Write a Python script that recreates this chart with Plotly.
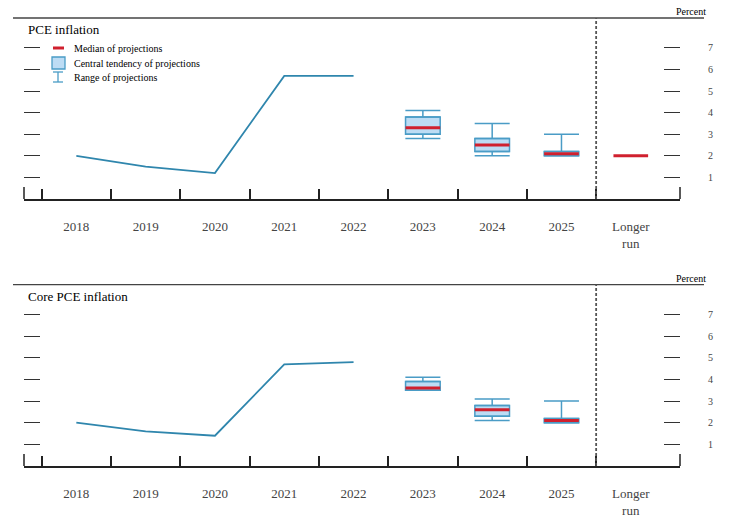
import plotly.graph_objects as go

# ---------------- data ----------------
categories = ["2018", "2019", "2020", "2021", "2022", "2023", "2024", "2025", "Longer run"]
tick_labels = ["2018", "2019", "2020", "2021", "2022", "2023", "2024", "2025", "Longer<br>run"]
hist_years = ["2018", "2019", "2020", "2021", "2022"]
proj_years = ["2023", "2024", "2025"]
longer_run_cat = ["Longer run"]

pce_hist = [2.0, 1.5, 1.2, 5.7, 5.7]
pce_median = [3.3, 2.5, 2.1]
pce_ct_low = [3.0, 2.2, 2.0]
pce_ct_high = [3.8, 2.8, 2.2]
pce_range_low = [2.8, 2.0, 2.0]
pce_range_high = [4.1, 3.5, 3.0]
pce_longer_run = [2.0]

core_hist = [2.0, 1.6, 1.4, 4.7, 4.8]
core_median = [3.6, 2.6, 2.1]
core_ct_low = [3.5, 2.3, 2.0]
core_ct_high = [3.9, 2.8, 2.2]
core_range_low = [3.5, 2.1, 2.0]
core_range_high = [4.1, 3.1, 3.0]
core_longer_run = []

y_ticks = [1, 2, 3, 4, 5, 6, 7]

# ---------------- styles ----------------
FONT = "Liberation Serif, Times New Roman, Times, serif"
LINE_C = "#2f86ad"
BOX_EDGE = "#4a9cc6"
BOX_FILL = "#bddcf4"
RED = "#d0202e"
AXC = "#222222"
TICKC = "#333333"
LABC = "#444444"

W, H = 732, 521
idx = {c: i for i, c in enumerate(categories)}
XRANGE = [-0.755, 8.71]
YRANGE = [0, 8.38]
BOX_W = 0.5
CAP_HALF = 17.5

fig = go.Figure()


def add_panel(xa, ya, hist, med, ctl, cth, rl, rh, lr):
    xs_h = [idx[c] for c in hist_years]
    xs_p = [idx[c] for c in proj_years]
    fig.add_trace(go.Scatter(x=xs_h, y=hist, mode="lines",
                             line=dict(color=LINE_C, width=1.8),
                             xaxis=xa, yaxis=ya, showlegend=False))
    fig.add_trace(go.Bar(x=xs_p, base=ctl, y=[h - l for h, l in zip(cth, ctl)],
                         width=BOX_W, marker=dict(color=BOX_FILL, line=dict(color=BOX_EDGE, width=1.5)),
                         xaxis=xa, yaxis=ya, showlegend=False))
    fig.add_trace(go.Scatter(x=xs_p, y=cth, mode="markers",
                             marker=dict(size=1, color="rgba(0,0,0,0)"),
                             error_y=dict(type="data", symmetric=False,
                                          array=[h - c for h, c in zip(rh, cth)],
                                          arrayminus=[0] * len(cth),
                                          width=CAP_HALF, thickness=1.5, color=BOX_EDGE),
                             xaxis=xa, yaxis=ya, showlegend=False))
    fig.add_trace(go.Scatter(x=xs_p, y=rl, mode="markers",
                             marker=dict(size=1, color="rgba(0,0,0,0)"),
                             error_y=dict(type="data", symmetric=False,
                                          array=[c - l for c, l in zip(ctl, rl)],
                                          arrayminus=[0] * len(rl),
                                          width=CAP_HALF, thickness=1.5, color=BOX_EDGE),
                             xaxis=xa, yaxis=ya, showlegend=False))
    mx = xs_p + ([idx[c] for c in longer_run_cat] if lr else [])
    my = list(med) + list(lr)
    fig.add_trace(go.Scatter(x=mx, y=my, mode="markers",
                             marker=dict(size=1, color="rgba(0,0,0,0)"),
                             error_x=dict(type="constant", value=BOX_W / 2, width=0,
                                          thickness=3, color=RED),
                             xaxis=xa, yaxis=ya, showlegend=False))
    # invisible trace on the right-hand axis so that it carries its labels
    fig.add_trace(go.Scatter(x=[idx[c] for c in proj_years[:1]], y=[None], mode="markers",
                             xaxis=xa, yaxis=("y2" if ya == "y" else "y4"),
                             showlegend=False, hoverinfo="skip"))


add_panel("x", "y", pce_hist, pce_median, pce_ct_low, pce_ct_high, pce_range_low, pce_range_high, pce_longer_run)
add_panel("x2", "y3", core_hist, core_median, core_ct_low, core_ct_high, core_range_low, core_range_high, core_longer_run)

xdom = [24 / W, 680 / W]
top_px = (18, 199)
bot_px = (284.7, 466)
ydom_top = [1 - top_px[1] / H, 1 - top_px[0] / H]
ydom_bot = [1 - bot_px[1] / H, 1 - bot_px[0] / H]

boundaries = [i - 0.5 for i in range(len(categories))]


def xaxis_def(anchor):
    return dict(domain=xdom, anchor=anchor, range=XRANGE, showgrid=False, zeroline=False,
                showline=True, linecolor=AXC, linewidth=1.5,
                tickmode="array", tickvals=list(range(len(categories))), ticktext=tick_labels,
                ticks="", ticklabelstandoff=15,
                tickfont=dict(family=FONT, size=13, color=LABC),
                minor=dict(tickmode="array", tickvals=boundaries, ticks="inside",
                           ticklen=10, tickwidth=1.5, tickcolor=AXC, showgrid=False),
                fixedrange=True)


def yleft_def(anchor, dom):
    return dict(domain=dom, anchor=anchor, range=YRANGE, showgrid=False, zeroline=False,
                showline=False, tickmode="array", tickvals=y_ticks, ticks="inside",
                ticklen=16, tickwidth=1.2, tickcolor=TICKC, showticklabels=False,
                fixedrange=True)


def yright_def(anchor, over, standoff):
    return dict(overlaying=over, anchor=anchor, side="right", range=YRANGE, showgrid=False,
                zeroline=False, showline=False, tickmode="array", tickvals=y_ticks,
                ticks="inside", ticklen=16, tickwidth=1.2, tickcolor=TICKC,
                showticklabels=True, ticklabeloverflow="allow", ticklabelstandoff=standoff,
                tickfont=dict(family=FONT, size=10, color=LABC), fixedrange=True)


shapes = []
annotations = []
for ya, dom, ypx, title in [("y", ydom_top, top_px, "PCE inflation"),
                            ("y3", ydom_bot, bot_px, "Core PCE inflation")]:
    xa = "x" if ya == "y" else "x2"
    shapes.append(dict(type="line", xref="paper", yref="paper", x0=13 / W, x1=704 / W,
                       y0=dom[1], y1=dom[1], line=dict(color="#444444", width=1.3)))
    stub = 12 / (ypx[1] - ypx[0])
    for xd in (0, 1):
        shapes.append(dict(type="line", xref=xa + " domain", yref=ya + " domain", x0=xd, x1=xd,
                           y0=0, y1=stub, line=dict(color=AXC, width=1.5)))
    shapes.append(dict(type="line", xref=xa, yref=ya + " domain", x0=idx["Longer run"] - 0.5,
                       x1=idx["Longer run"] - 0.5, y0=0, y1=1,
                       line=dict(color="#555555", width=1.8, dash="3px,2px")))
    annotations.append(dict(text=title, xref="paper", yref="paper", x=26 / W,
                            y=dom[1] - 12 / H, xanchor="left", yanchor="middle", showarrow=False,
                            font=dict(family=FONT, size=13, color="#000000")))
    annotations.append(dict(text="Percent", xref="paper", yref="paper", x=691 / W,
                            y=dom[1] + 6 / H, xanchor="center", yanchor="middle", showarrow=False,
                            font=dict(family=FONT, size=10, color="#000000")))

leg_items = ["Median of projections", "Central tendency of projections", "Range of projections"]
leg_y = [48, 63, 78]
for t, yy in zip(leg_items, leg_y):
    annotations.append(dict(text=t, xref="paper", yref="paper", x=72 / W, y=1 - yy / H,
                            xanchor="left", yanchor="middle", showarrow=False,
                            font=dict(family=FONT, size=10, color="#000000")))
shapes.append(dict(type="line", xref="paper", yref="paper", x0=53 / W, x1=64 / W,
                   y0=1 - 48 / H, y1=1 - 48 / H, line=dict(color=RED, width=3)))
shapes.append(dict(type="rect", xref="paper", yref="paper", x0=52 / W, x1=65 / W,
                   y0=1 - 69 / H, y1=1 - 57 / H, fillcolor=BOX_FILL,
                   line=dict(color=BOX_EDGE, width=1.3)))
for yy in (72, 82):
    shapes.append(dict(type="line", xref="paper", yref="paper", x0=53 / W, x1=63 / W,
                       y0=1 - yy / H, y1=1 - yy / H, line=dict(color=BOX_EDGE, width=1.3)))
shapes.append(dict(type="line", xref="paper", yref="paper", x0=58 / W, x1=58 / W,
                   y0=1 - 82 / H, y1=1 - 72 / H, line=dict(color=BOX_EDGE, width=1.3)))

fig.update_layout(
    width=W, height=H, margin=dict(l=0, r=0, t=0, b=0),
    paper_bgcolor="white", plot_bgcolor="white",
    showlegend=False, barmode="overlay",
    font=dict(family=FONT),
    xaxis=xaxis_def("y"), yaxis=yleft_def("x", ydom_top), yaxis2=yright_def("x", "y", 27),
    xaxis2=xaxis_def("y3"), yaxis3=yleft_def("x2", ydom_bot), yaxis4=yright_def("x2", "y3", 27),
    shapes=shapes, annotations=annotations,
)

fig.write_html("out.html", config={"displayModeBar": False},
               post_script="document.body.style.margin='0px';")
